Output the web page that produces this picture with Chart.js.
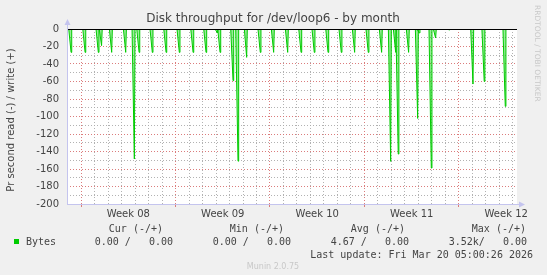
<!DOCTYPE html>
<html>
<head>
<meta charset="utf-8">
<script src="https://cdn.jsdelivr.net/npm/chart.js@4"></script>
<style>
  html, body { margin: 0; padding: 0; background: #f0f0f0; }
  canvas { display: block; }
</style>
</head>
<body>
<canvas id="chart" width="547" height="275"></canvas>
<script>
// days since Mon 16 Feb 2026 00:00 (start of Week 08)
const spikeDays = [-0.74, 0.30, 1.28, 1.52, 2.27, 3.31, 3.95, 4.30, 5.28, 6.30,
  7.28, 8.30, 9.26, 10.10, 10.30, 11.26, 11.63, 12.27, 13.28, 14.27,
  15.31, 16.30, 17.28, 18.30, 19.28, 20.27, 21.28, 22.27, 22.94, 23.31,
  23.50, 24.27, 24.94, 25.06, 25.95, 26.27, 27.28, 29.04, 29.87, 31.43];
// read bytes per second (drawn negative)
const readBytes = [-26.7, -26.7, -26.7, -19, -26.7, -26.7, -148.6, -26.7, -26.7, -26.7,
  -26.7, -26.7, -26.7, -4.6, -26.7, -59, -151, -32.4, -26.7, -26.7,
  -26.7, -26.7, -26.7, -26.7, -26.7, -26.7, -26.7, -26.7, -151.3, -26.7,
  -142.9, -26.7, -102.2, -4.5, -158.9, -10.3, -1, -62.9, -59.9, -88.4];
const weekLabels = ["Week 08", "Week 09", "Week 10", "Week 11", "Week 12"];
const weekStarts = [0, 7, 14, 21, 28];
const xMin = -1.04, xMax = 32.3;
const yMin = -200, yMax = 0;

const legendHead = ["Cur (-/+)", "Min (-/+)", "Avg (-/+)", "Max (-/+)"];
const legendVals = ["0.00 /   0.00", "0.00 /   0.00", "4.67 /   0.00", "3.52k/   0.00"];
const lastUpdate = "Last update: Fri Mar 20 05:00:26 2026";

// spikes on a zero baseline
const points = [{ x: xMin, y: 0 }];
spikeDays.forEach((d, i) => {
  points.push({ x: d - 0.17, y: 0 });
  points.push({ x: d, y: readBytes[i] });
  points.push({ x: d + 0.05, y: 0 });
});
points.push({ x: xMax, y: 0 });

const GREEN = "#00cc00";
const MAJOR = "rgba(215,110,110,0.9)";
const MINOR = "rgba(170,170,170,0.9)";
const AXIS = "#c4c4ee";
const TEXT = "#444";

const munin = {
  id: "munin",
  beforeDraw(chart) {
    const c = chart.ctx, a = chart.chartArea;
    c.save();
    c.fillStyle = "#f0f0f0";
    c.fillRect(0, 0, chart.width, chart.height);
    c.fillStyle = "#fff";
    c.fillRect(a.left, a.top, a.right - a.left, a.bottom - a.top);
    c.restore();
  },
  afterDraw(chart) {
    const c = chart.ctx, a = chart.chartArea;
    c.save();
    // zero line
    c.strokeStyle = "#000";
    c.lineWidth = 1;
    c.beginPath();
    c.moveTo(a.left, a.top + 0.5);
    c.lineTo(a.right, a.top + 0.5);
    c.stroke();
    // axes with arrows
    c.strokeStyle = AXIS;
    c.fillStyle = AXIS;
    c.beginPath();
    c.moveTo(a.left + 0.5, a.bottom);
    c.lineTo(a.left + 0.5, a.top - 6);
    c.moveTo(a.left, a.bottom + 0.5);
    c.lineTo(a.right + 4, a.bottom + 0.5);
    c.stroke();
    c.beginPath();
    c.moveTo(a.left + 0.5, a.top - 10);
    c.lineTo(a.left - 2.5, a.top - 4);
    c.lineTo(a.left + 3.5, a.top - 4);
    c.fill();
    c.beginPath();
    c.moveTo(a.right + 8, a.bottom + 0.5);
    c.lineTo(a.right + 2, a.bottom - 2.5);
    c.lineTo(a.right + 2, a.bottom + 3.5);
    c.fill();

    // title
    c.fillStyle = TEXT;
    c.textBaseline = "middle";
    c.textAlign = "center";
    c.font = "12px 'DejaVu Sans'";
    c.fillText("Disk throughput for /dev/loop6 - by month", 273, 19);

    // y title
    c.save();
    c.translate(11, 120);
    c.rotate(-Math.PI / 2);
    c.font = "10px 'DejaVu Sans'";
    c.fillText("Pr second read (-) / write (+)", 0, 0);
    c.restore();

    // rrdtool credit
    c.save();
    c.translate(537, 5);
    c.rotate(Math.PI / 2);
    c.textAlign = "left";
    c.fillStyle = "#c8c8c8";
    c.font = "7.5px 'DejaVu Sans'";
    c.fillText("RRDTOOL / TOBI OETIKER", 0, 0);
    c.restore();

    // legend
    c.font = "10px 'DejaVu Sans Mono'";
    c.textAlign = "right";
    const headRight = [163, 284, 405, 526];
    const valRight = [173, 291, 409, 527];
    legendHead.forEach((t, i) => c.fillText(t, headRight[i], 229));
    legendVals.forEach((t, i) => c.fillText(t, valRight[i], 242));
    c.fillText(lastUpdate, 533, 255);
    c.textAlign = "left";
    c.fillText("Bytes", 26, 242);
    c.fillStyle = GREEN;
    c.fillRect(14, 239, 5, 5);

    c.fillStyle = "#c8c8c8";
    c.textAlign = "center";
    c.font = "8px 'DejaVu Sans'";
    c.fillText("Munin 2.0.75", 273, 267);
    c.restore();
  }
};

const xTicks = [];
for (let d = -1; d <= 32; d++) xTicks.push(d);
weekStarts.forEach(w => xTicks.push(w + 3.5));

new Chart(document.getElementById("chart"), {
  type: "line",
  data: {
    datasets: [{
      label: "Bytes",
      data: points,
      borderColor: GREEN,
      backgroundColor: "rgba(0,204,0,0.4)",
      borderWidth: 1,
      fill: "origin",
      pointRadius: 0,
      tension: 0
    }]
  },
  options: {
    responsive: false,
    animation: false,
    devicePixelRatio: 1,
    layout: { padding: { top: 29, right: 30, left: 0, bottom: 0 } },
    plugins: {
      legend: { display: false },
      title: { display: false },
      tooltip: { enabled: false }
    },
    scales: {
      x: {
        type: "linear",
        min: xMin,
        max: xMax,
        afterFit: s => { s.height = 71; },
        afterBuildTicks: s => { s.ticks = xTicks.map(v => ({ value: v })); },
        border: { display: false, dash: [1, 2] },
        grid: {
          drawTicks: true,
          tickLength: 3,
          color: ctx => {
            const v = ctx.tick ? ctx.tick.value : 0;
            if (v % 1 !== 0) return "rgba(0,0,0,0)";
            return weekStarts.includes(v) ? MAJOR : MINOR;
          },
          tickColor: ctx => {
            const v = ctx.tick ? ctx.tick.value : 0;
            return weekStarts.includes(v) ? MAJOR : "rgba(0,0,0,0)";
          }
        },
        ticks: {
          autoSkip: false,
          maxRotation: 0,
          padding: 1,
          color: TEXT,
          font: { family: "DejaVu Sans", size: 10 },
          callback: v => {
            const i = weekStarts.indexOf(v - 3.5);
            return i >= 0 ? weekLabels[i] : "";
          }
        }
      },
      y: {
        min: yMin,
        max: yMax,
        afterFit: s => { s.width = 67; },
        border: { display: false, dash: [1, 2] },
        grid: {
          drawTicks: false,
          color: ctx => {
            const v = ctx.tick ? ctx.tick.value : 0;
            if (v === 0) return "rgba(0,0,0,0)";
            return v % 20 === 0 ? MAJOR : MINOR;
          }
        },
        ticks: {
          stepSize: 10,
          autoSkip: false,
          padding: 8,
          color: TEXT,
          font: { family: "DejaVu Sans", size: 10 },
          callback: v => (v % 20 === 0 ? v : "")
        }
      }
    }
  },
  plugins: [munin]
});
</script>
</body>
</html>
